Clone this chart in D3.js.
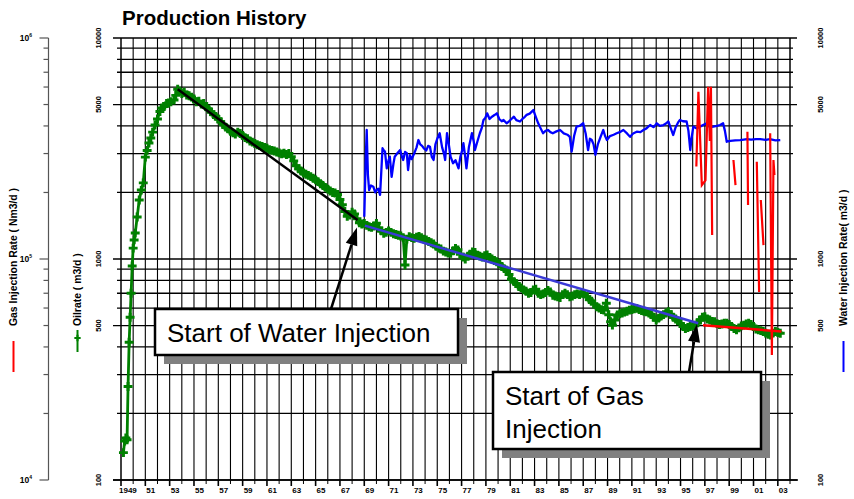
<!DOCTYPE html>
<html>
<head>
<meta charset="utf-8">
<script src="https://cdn.jsdelivr.net/npm/d3@7"></script>
<style>
body { margin: 0; background: #fff; }
svg { display: block; font-family: Arial, "Liberation Sans", sans-serif; }
</style>
</head>
<body>
<script>
// oil rate, m3/d
const oilYear = [1949.20,1949.30,1949.40,1949.50,1949.58,1949.67,1949.75,1949.83,1949.92,1950.00,1950.08,1950.17,1950.33,1950.50,1950.67,1950.83,
  1951.00,1951.15,1951.30,1951.45,1951.60,1951.80,1952.00,1952.20,1952.35,1952.55,1952.75,1952.90,1953.10,1953.36,1953.50,1953.66,1953.80,
  1954.0,1954.2,1954.4,1954.6,1954.8,1955.0,1955.2,1955.4,1955.6,1955.8,1956.0,1956.2,1956.4,1956.6,1956.8,1957.0,1957.2,1957.4,1957.6,1957.8,
  1958.0,1958.2,1958.4,1958.6,1958.8,1959.0,1959.2,1959.4,1959.6,1959.8,1960.0,1960.2,1960.4,1960.6,1960.8,1961.0,1961.2,1961.4,1961.6,1961.8,
  1962.0,1962.2,1962.4,1962.6,1962.8,1963.0,1963.2,1963.4,1963.6,1963.8,1964.0,1964.2,1964.4,1964.6,1964.8,1965.0,1965.2,1965.4,1965.6,1965.8,
  1966.0,1966.2,1966.4,1966.6,1966.8,1967.0,1967.2,1967.4,1967.6,1967.8,1968.0,1968.2,1968.4,1968.6,1968.8,1969.0,1969.2,1969.4,1969.6,1969.8,
  1970.0,1970.2,1970.4,1970.6,1970.8,1971.0,1971.2,1971.4,1971.6,1971.8,1972.0,1972.2,1972.35,1972.5,1972.7,1972.9,1973.1,1973.3,1973.5,1973.7,1973.9,
  1974.1,1974.3,1974.5,1974.7,1974.9,1975.1,1975.3,1975.5,1975.7,1975.9,1976.1,1976.3,1976.5,1976.7,1976.9,1977.1,1977.3,1977.5,1977.7,1977.9,
  1978.1,1978.3,1978.5,1978.7,1978.9,1979.1,1979.3,1979.5,1979.7,1979.9,1980.1,1980.3,1980.5,1980.7,1980.9,1981.1,1981.3,1981.5,1981.7,1981.9,
  1982.1,1982.3,1982.5,1982.7,1982.9,1983.1,1983.3,1983.5,1983.7,1983.9,1984.1,1984.3,1984.5,1984.7,1984.9,1985.1,1985.3,1985.5,1985.7,1985.9,
  1986.1,1986.3,1986.5,1986.7,1986.9,1987.1,1987.3,1987.5,1987.7,1987.9,1988.1,1988.3,1988.5,1988.7,1988.9,1989.1,1989.25,1989.4,1989.6,1989.8,
  1990.0,1990.2,1990.4,1990.6,1990.8,1991.0,1991.2,1991.4,1991.6,1991.8,1992.0,1992.2,1992.4,1992.6,1992.8,1993.0,1993.2,1993.4,1993.6,1993.8,
  1994.0,1994.2,1994.4,1994.6,1994.8,1995.0,1995.2,1995.4,1995.6,1995.8,1996.0,1996.2,1996.4,1996.6,1996.8,1997.0,1997.2,1997.4,1997.6,1997.8,
  1998.0,1998.2,1998.4,1998.6,1998.8,1999.0,1999.2,1999.4,1999.6,1999.8,2000.0,2000.2,2000.4,2000.6,2000.8,2001.0,2001.2,2001.4,2001.6,2001.8,
  2002.0,2002.2,2002.4,2002.6,2002.8,2003.0,2003.2];
const oilRate = [133,150,155,152,265,420,545,700,930,1120,1220,1310,1550,1850,2050,2210,
  2890,3100,3350,3530,3750,4040,4300,4650,4820,4900,5050,5080,5150,5240,5500,5860,5750,
  5600,5680,5520,5480,5400,5300,5150,5180,5020,5060,4880,4760,4640,4500,4420,4300,4180,4060,3950,3880,
  3780,3720,3680,3750,3700,3620,3540,3500,3420,3380,3330,3290,3260,3230,3200,3170,3120,3100,3080,3050,
  3020,2990,3010,2970,3000,2900,2780,2640,2560,2500,2450,2420,2390,2360,2320,2280,2240,2190,2150,2110,
  2070,2030,2000,1990,1960,1860,1760,1640,1560,1580,1630,1600,1520,1460,1440,1450,1420,1400,1390,1410,
  1450,1380,1340,1306,1320,1340,1320,1300,1290,1280,1270,1250,940,1230,1262,1250,1240,1255,1265,1250,1230,
  1218,1200,1185,1170,1140,1120,1110,1085,1075,1065,1060,1090,1115,1100,1050,1020,1000,1030,1050,1075,
  1070,1040,1030,1020,1035,1042,1015,1000,985,972,950,925,905,891,850,810,790,775,750,740,
  725,715,700,705,725,730,700,690,695,705,720,710,685,680,675,670,690,700,690,674,
  680,690,695,690,700,695,675,655,645,625,608,600,590,587,631,560,520,502,530,558,
  565,570,575,580,587,590,595,598,590,585,580,577,570,560,545,530,540,552,560,570,
  577,560,545,535,525,510,495,485,490,495,498,502,515,530,545,548,535,530,522,520,
  510,505,508,512,512,505,495,485,478,488,498,502,508,512,505,495,482,478,474,470,
  462,456,453,462,470,465,461];

// water injection rate, m3/d
const waterYear = [1969.00,1969.10,1969.20,1969.30,1969.40,1969.55,1969.75,1969.90,1970.00,1970.15,1970.30,1970.50,1970.60,1970.70,1970.85,
  1971.00,1971.10,1971.25,1971.40,1971.50,1971.70,1971.95,1972.10,1972.20,1972.35,1972.50,1972.60,1972.75,1972.90,1973.10,1973.30,1973.45,
  1973.60,1973.75,1973.90,1974.10,1974.25,1974.40,1974.55,1974.70,1974.85,1975.00,1975.20,1975.40,1975.55,1975.65,1975.80,1975.95,1976.10,
  1976.30,1976.50,1976.75,1976.90,1977.05,1977.15,1977.30,1977.40,1977.60,1977.85,1978.00,1978.10,1978.30,1978.50,1978.65,1978.80,1978.95,
  1979.10,1979.30,1979.50,1979.70,1979.90,1980.10,1980.30,1980.45,1980.70,1980.90,1981.10,1981.30,1981.50,1981.80,1982.00,1982.20,1982.35,
  1982.60,1982.90,1983.10,1983.30,1983.50,1983.70,1983.90,1984.10,1984.30,1984.50,1984.80,1985.10,1985.40,1985.70,1985.90,1986.05,1986.25,
  1986.45,1986.70,1987.00,1987.20,1987.40,1987.55,1987.70,1987.85,1988.00,1988.20,1988.45,1988.65,1988.80,1988.95,1989.20,1989.50,1989.75,
  1990.00,1990.30,1990.60,1990.85,1991.10,1991.40,1991.70,1991.95,1992.20,1992.50,1992.80,1993.05,1993.30,1993.60,1993.80,1994.00,1994.20,
  1994.40,1994.60,1994.80,1994.95,1995.20,1995.50,1995.65,1995.80,1995.90,1996.05,1996.30,1996.60,1996.90,1997.15,1997.40,1997.70,1998.00,
  1998.25,1998.50,1998.65,1998.80,1999.10,1999.50,1999.90,2000.20,2000.45,2000.80,2001.20,2001.55,2002.00,2002.35,2002.80,2003.20];
const waterRate = [1553,2600,3836,2400,2051,2150,2122,2000,2051,2080,1952,3170,3100,3060,2572,
  2800,2904,2355,2700,2904,3000,3113,2900,2806,3050,3008,2528,2950,2830,3000,3200,3454,
  3300,3250,3170,3100,3250,3220,2900,2806,3300,3500,3707,3200,3000,2806,3707,3300,2900,
  2711,2800,2572,2900,3100,3340,2900,2572,3200,3707,3400,3113,3400,3707,3900,4254,4350,
  4562,4300,4405,4480,4562,4300,4200,4254,4112,4200,4300,4405,4250,4190,4300,4400,4487,
  4550,4720,4400,4112,3900,3707,3800,3836,3750,3707,3780,3836,3700,3650,3573,3060,3600,
  3973,4000,4112,3700,3113,3500,3454,3300,2959,3300,3600,3836,3600,3454,3600,3650,3707,
  3750,3836,3700,3573,3700,3768,3750,3836,3900,4039,3950,4112,4000,4039,4100,4190,3900,
  3640,3950,4150,4254,4200,4190,3800,3113,3500,3973,3900,3973,4050,4112,3950,3973,4000,
  4039,4112,3800,3393,3420,3440,3454,3470,3484,3470,3484,3484,3460,3484,3440,3454];

// gas injection rate, Nm3/d (null = no injection, gap in the line)
const gasYear = [1996.30,1996.47,1996.75,1997.05,1997.27,1997.41,1997.50,1997.60,1997.70,
  1999.35,1999.52,1999.60,2000.50,2000.55,2000.60,2001.27,2001.46,2001.55,2001.60,2001.82,2001.90,
  2002.37,2002.51,2002.64,2002.72];
const gasRate = [262000,571000,216000,227000,602000,342000,602000,128500,null,
  280500,216000,null,376700,175400,null,275500,70900,null,184900,115600,null,
  370500,36800,280500,240000];

// decline trend lines (oil scale)
const trendBlack = [[1953.66, 5860], [1968.45, 1500]];
const trendBlue = [[1969.05, 1416], [1996.45, 512]];
const trendRed = [[1996.85, 502], [2003.3, 470]];

const yearTicks = d3.range(1949, 2005);
const labelYears = [1949].concat(d3.range(1951, 2004, 2));
const majorRates = [100, 500, 1000, 5000, 10000];
const gasMajors = [1e4, 1e5, 1e6];

const W = 854, H = 499;
const L = 121, R = 790, T = 38, B = 480;

const x = d3.scaleLinear().domain([1949, 2004]).range([L, R]);
const yOil = d3.scaleLog().domain([100, 10000]).range([B, T]);
const yGas = d3.scaleLog().domain([1e4, 1e6]).range([B, T]);

const svg = d3.select("body").append("svg")
    .attr("width", W).attr("height", H)
    .attr("viewBox", [0, 0, W, H]);

svg.append("text")
    .attr("x", 122).attr("y", 25)
    .attr("font-size", 20.5).attr("font-weight", "bold")
    .text("Production History");

// vertical grid, one line per year
svg.append("g").selectAll("line")
    .data(yearTicks.filter(d => d > 1949 && d < 2004))
    .join("line")
    .attr("x1", d => x(d)).attr("x2", d => x(d))
    .attr("y1", T).attr("y2", B)
    .attr("stroke", "#000").attr("stroke-width", 1.1);

// horizontal grid, extends out as ticks on both sides
svg.append("g").selectAll("line")
    .data(yOil.ticks())
    .join("line")
    .attr("x1", d => majorRates.includes(d) ? L - 8 : L - 4)
    .attr("x2", d => majorRates.includes(d) ? R + 7 : R + 3)
    .attr("y1", d => yOil(d)).attr("y2", d => yOil(d))
    .attr("stroke", "#000").attr("stroke-width", 1.3);

// frame
svg.append("line").attr("x1", L).attr("x2", L).attr("y1", T).attr("y2", B).attr("stroke", "#000").attr("stroke-width", 1.5);
svg.append("line").attr("x1", R).attr("x2", R).attr("y1", T).attr("y2", B).attr("stroke", "#000").attr("stroke-width", 1.5);
svg.append("line").attr("x1", L - 8).attr("x2", R + 8).attr("y1", B).attr("y2", B).attr("stroke", "#000").attr("stroke-width", 1.5);

// bottom ticks and labels
svg.append("g").selectAll("line")
    .data(yearTicks)
    .join("line")
    .attr("x1", d => x(d)).attr("x2", d => x(d))
    .attr("y1", B).attr("y2", d => labelYears.includes(d) ? B + 6 : B + 4)
    .attr("stroke", "#000").attr("stroke-width", d => labelYears.includes(d) ? 1.6 : 1);
svg.append("g").selectAll("text")
    .data(labelYears)
    .join("text")
    .attr("x", d => d === 1949 ? x(d) - 2 : x(d) + 1)
    .attr("y", 493)
    .attr("font-size", 8).attr("font-weight", "bold")
    .text(d => d === 1949 ? "1949" : String(d).slice(2));

// oil axis labels (left) and water axis labels (right)
[101, 823].forEach(px => {
  svg.append("g").selectAll("text")
      .data(majorRates)
      .join("text")
      .attr("transform", d => `translate(${px},${yOil(d)}) rotate(-90)`)
      .attr("text-anchor", "middle")
      .attr("font-size", 7.5).attr("font-weight", "bold")
      .text(d => d);
});

// gas axis on the far left
const gx = 48.5;
svg.append("line").attr("x1", gx).attr("x2", gx).attr("y1", T).attr("y2", B)
    .attr("stroke", "#555").attr("stroke-width", 1.2);
svg.append("g").selectAll("line")
    .data(yGas.ticks())
    .join("line")
    .attr("x1", d => gasMajors.includes(d) ? gx - 9 : gx - 5).attr("x2", gx)
    .attr("y1", d => yGas(d)).attr("y2", d => yGas(d))
    .attr("stroke", "#555").attr("stroke-width", 1.2);
const gl = svg.append("g").selectAll("text")
    .data(gasMajors)
    .join("text")
    .attr("x", 32).attr("y", d => yGas(d) + 3)
    .attr("text-anchor", "end")
    .attr("font-size", 8.5).attr("font-weight", "bold");
gl.append("tspan").text("10");
gl.append("tspan").attr("dy", -4).attr("font-size", 5).text(d => Math.round(Math.log10(d)));

// axis titles with legend swatches
function axisTitle(px, label, color, withMarker) {
  svg.append("text")
      .attr("transform", `translate(${px + 3.8},326) rotate(-90)`)
      .attr("font-size", 10.4).attr("font-weight", "bold")
      .text(label);
  const y0 = withMarker ? 330 : 341, y1 = withMarker ? 352 : 372;
  svg.append("line").attr("x1", px).attr("x2", px).attr("y1", y0).attr("y2", y1)
      .attr("stroke", color).attr("stroke-width", 2);
  if (withMarker) {
    svg.append("path")
        .attr("transform", `translate(${px},338)`)
        .attr("d", d3.symbol().type(d3.symbolCross).size(22)())
        .attr("fill", color);
  }
}
axisTitle(13.5, "Gas Injection Rate ( Nm3/d )", "#ff0000", false);
axisTitle(77.5, "Oilrate ( m3/d )", "#008000", true);
axisTitle(843.5, "Water Injection Rate( m3/d )", "#0000ff", false);

// water injection
const water = waterYear.map((d, i) => [d, waterRate[i]]);
svg.append("path")
    .datum(water)
    .attr("fill", "none").attr("stroke", "#0000ff").attr("stroke-width", 2.3)
    .attr("stroke-linejoin", "round")
    .attr("d", d3.line().x(d => x(d[0])).y(d => yOil(d[1])));

// oil rate with markers
const oil = oilYear.map((d, i) => [d, oilRate[i]]);
svg.append("path")
    .datum(oil)
    .attr("fill", "none").attr("stroke", "#008000").attr("stroke-width", 2.8)
    .attr("stroke-linejoin", "round")
    .attr("d", d3.line().x(d => x(d[0])).y(d => yOil(d[1])));
svg.append("g").selectAll("path")
    .data(oil)
    .join("path")
    .attr("transform", d => `translate(${x(d[0])},${yOil(d[1])})`)
    .attr("d", d3.symbol().type(d3.symbolCross).size(44)())
    .attr("fill", "#008000");

// trend lines
const trendLine = d3.line().x(d => x(d[0])).y(d => yOil(d[1]));
svg.append("path").datum(trendBlack).attr("d", trendLine)
    .attr("stroke", "#000").attr("stroke-width", 2.5).attr("fill", "none");
svg.append("path").datum(trendBlue).attr("d", trendLine)
    .attr("stroke", "#3a3ad6").attr("stroke-width", 2.5).attr("fill", "none");
svg.append("path").datum(trendRed).attr("d", trendLine)
    .attr("stroke", "#ff0000").attr("stroke-width", 2.5).attr("fill", "none");

// gas injection
const gas = gasYear.map((d, i) => [d, gasRate[i]]);
svg.append("path")
    .datum(gas)
    .attr("fill", "none").attr("stroke", "#ff0000").attr("stroke-width", 2.2)
    .attr("d", d3.line().defined(d => d[1] != null).x(d => x(d[0])).y(d => yGas(d[1])));

// annotation boxes
function note(bx, by, bw, bh, lines) {
  svg.append("rect").attr("x", bx + 9).attr("y", by + 9).attr("width", bw).attr("height", bh)
      .attr("fill", "#808080");
  svg.append("rect").attr("x", bx).attr("y", by).attr("width", bw).attr("height", bh)
      .attr("fill", "#fff").attr("stroke", "#000").attr("stroke-width", 2.5);
  lines.forEach((t, i) => {
    svg.append("text").attr("x", bx + 12).attr("y", by + 33 + i * 33)
        .attr("font-size", 26).text(t);
  });
}
function arrow(x0, y0, tip) {
  const x1 = x(tip[0]), y1 = yOil(tip[1]);
  const a = Math.atan2(y1 - y0, x1 - x0), len = 18, half = 6;
  const bxp = x1 - len * Math.cos(a), byp = y1 - len * Math.sin(a);
  svg.append("line").attr("x1", x0).attr("y1", y0).attr("x2", bxp).attr("y2", byp)
      .attr("stroke", "#000").attr("stroke-width", 2.5);
  svg.append("path")
      .attr("d", `M${x1},${y1}L${bxp - half * Math.sin(a)},${byp + half * Math.cos(a)}L${bxp + half * Math.sin(a)},${byp - half * Math.cos(a)}Z`)
      .attr("fill", "#000");
}
note(155, 309, 303, 46, ["Start of Water Injection"]);
note(493, 372, 268, 77, ["Start of Gas", "Injection"]);
arrow(331, 309, [1968.4, 1390]);
arrow(689, 372, [1996.35, 508]);
</script>
</body>
</html>
